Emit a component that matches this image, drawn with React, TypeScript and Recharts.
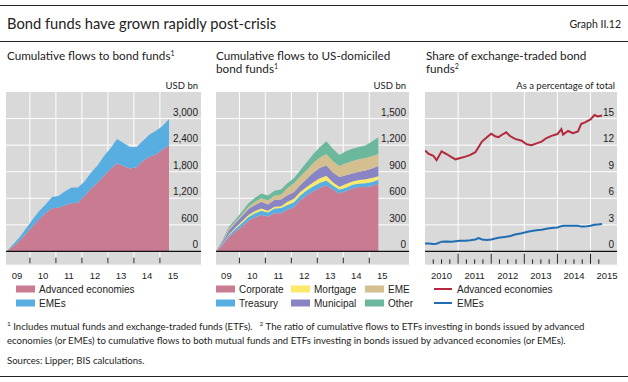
import React from "react";
import {
  AreaChart,
  Area,
  LineChart,
  Line,
  XAxis,
  YAxis,
  CartesianGrid,
  ReferenceLine,
} from "recharts";

// ---- data (decimal years) ----

// panel 1: cumulative flows to bond funds, USD bn (quarterly)
const flowDates = [
  2009.1, 2009.35, 2009.6, 2009.85, 2010.1, 2010.35, 2010.6, 2010.85, 2011.1, 2011.35, 2011.6, 2011.85,
  2012.1, 2012.35, 2012.6, 2012.85, 2013.1, 2013.35, 2013.6, 2013.85, 2014.1, 2014.35, 2014.6, 2014.85,
  2015.1, 2015.35,
];
const advancedFlows = [
  0, 110, 240, 400, 570, 720, 870, 975, 985, 1040, 1090, 1100, 1250, 1420, 1550, 1710, 1860, 1990, 1930,
  1870, 1900, 2050, 2140, 2190, 2300, 2390,
];
const emeFlows = [
  0, 45, 80, 120, 150, 185, 190, 255, 265, 320, 355, 345, 330, 360, 390, 445, 470, 550, 520, 490, 460, 450,
  500, 535, 530, 600,
];

// panel 2: cumulative flows to US-domiciled bond funds, USD bn
const usDates = flowDates;
const corporate = [
  0, 70, 165, 225, 280, 345, 385, 410, 395, 430, 430, 470, 500, 580, 635, 680, 720, 745, 700, 655, 680, 710,
  730, 725, 740, 765,
];
const treasury = [0, 10, 19, 30, 40, 45, 45, 50, 45, 55, 60, 55, 55, 55, 55, 55, 55, 55, 45, 45, 40, 42, 38, 45, 45, 45];
const mortgage = [0, 5, 11, 15, 20, 20, 25, 25, 20, 20, 20, 35, 40, 40, 40, 45, 50, 55, 35, 30, 40, 38, 37, 45, 45, 40];
const municipal = [0, 20, 45, 50, 60, 70, 70, 75, 70, 75, 75, 75, 75, 75, 90, 110, 120, 115, 110, 110, 100, 90, 95, 100, 105, 115];
const emeBonds = [0, 10, 19, 15, 20, 25, 35, 40, 45, 50, 55, 80, 100, 100, 100, 110, 115, 130, 130, 125, 135, 140, 140, 140, 140, 135];
const otherBonds = [0, 10, 19, 25, 30, 40, 45, 55, 55, 55, 60, 55, 55, 70, 90, 100, 120, 145, 140, 125, 135, 140, 140, 140, 165, 190];

// panel 3: share of exchange-traded bond funds, % of total
const shareDates = [
  2010.0, 2010.1, 2010.25, 2010.35, 2010.5, 2010.65, 2010.8, 2010.92, 2011.07, 2011.22, 2011.37, 2011.52,
  2011.62, 2011.72, 2011.87, 2012.0, 2012.12, 2012.22, 2012.34, 2012.45, 2012.58, 2012.72, 2012.92, 2013.07,
  2013.22, 2013.37, 2013.52, 2013.67, 2013.82, 2014.0, 2014.12, 2014.17, 2014.32, 2014.47, 2014.62, 2014.72,
  2014.82, 2015.0, 2015.12, 2015.22, 2015.35,
];
const advancedShare = [
  11.4, 11.05, 10.8, 10.3, 11.3, 11.0, 10.65, 10.4, 10.55, 10.7, 10.9, 11.2, 11.8, 12.4, 12.9, 13.3, 13.0,
  12.9, 13.2, 13.45, 13.0, 12.7, 12.5, 12.1, 12.0, 12.2, 12.4, 12.8, 13.05, 13.25, 13.8, 13.2, 13.6, 13.35,
  13.55, 14.4, 14.55, 14.9, 15.4, 15.25, 15.35,
];
const emeShare = [
  0.9, 0.88, 0.85, 0.87, 1.1, 1.12, 1.1, 1.15, 1.2, 1.2, 1.25, 1.35, 1.5, 1.35, 1.3, 1.35, 1.45, 1.55, 1.6,
  1.65, 1.75, 1.9, 2.05, 2.2, 2.3, 2.4, 2.45, 2.55, 2.65, 2.7, 2.85, 2.9, 2.9, 2.9, 2.9, 2.8, 2.8, 2.9, 3.0,
  3.05, 3.1,
];

// axes
const flowTicks = [0, 600, 1200, 1800, 2400, 3000];
const usTicks = [0, 300, 600, 900, 1200, 1500];
const shareTicks = [0, 3, 6, 9, 12, 15];
const yearLines = [2010, 2011, 2012, 2013, 2014, 2015];
const shortYearLabels = ["09", "10", "11", "12", "13", "14", "15"];
const longYearLabels = ["2010", "2011", "2012", "2013", "2014", "2015"];
const quarterTicks = [
  2010.25, 2010.5, 2010.75, 2011.25, 2011.5, 2011.75, 2012.25, 2012.5, 2012.75, 2013.25, 2013.5, 2013.75,
  2014.25, 2014.5, 2014.75, 2015.25,
];

// ---- styling ----
const GREY = "#d9d9d9";
const PINK = "#c97b91";
const BLUE = "#58aee0";
const YELLOW = "#fbe96a";
const PURPLE = "#8985c4";
const TAN = "#d4bf90";
const GREEN = "#6cb89c";
const RED = "#b3293b";
const DARKBLUE = "#1f6eb3";
const INK = "#222";
const TEXT_FONT = "Lato, 'Open Sans', sans-serif";
const AXIS_FONT = "'Liberation Sans', Arial, sans-serif";

const flowRows = flowDates.map((t, i) => ({ t, advanced: advancedFlows[i], emes: emeFlows[i] }));
const usRows = usDates.map((t, i) => ({
  t,
  corporate: corporate[i],
  treasury: treasury[i],
  mortgage: mortgage[i],
  municipal: municipal[i],
  eme: emeBonds[i],
  other: otherBonds[i],
}));
const shareRows = shareDates.map((t, i) => ({ t, advanced: advancedShare[i], emes: emeShare[i] }));

const usSeries = [
  { key: "corporate", name: "Corporate", color: PINK },
  { key: "treasury", name: "Treasury", color: BLUE },
  { key: "mortgage", name: "Mortgage", color: YELLOW },
  { key: "municipal", name: "Municipal", color: PURPLE },
  { key: "eme", name: "EME", color: TAN },
  { key: "other", name: "Other", color: GREEN },
];

const CHART_H = 300;
const PLOT_TOP = 92;
const PLOT_BOTTOM = 264.7;

const yTick = (right: number) => (p: any) => (
  <text x={right - 3} y={p.y - 3} textAnchor="end" fontSize={10} fontFamily={AXIS_FONT} fill={INK}>
    {p.payload.value.toLocaleString("en-US")}
  </text>
);

const xTick = (labels: string[], first: number) => (p: any) => (
  <text x={p.x} y={p.y + 14} textAnchor="middle" fontSize={9.5} fontFamily={AXIS_FONT} fill={INK}>
    {labels[Math.floor(p.payload.value) - first]}
  </text>
);

function Sup({ children, size = 7, dx = 0 }: { children: string; size?: number; dx?: number }) {
  return (
    <tspan dx={dx} dy={-4.5} fontSize={size}>
      {children}
    </tspan>
  );
}

export default function App() {
  const leftW = 215;
  const leftRight = 201;
  const midLeft = 210;
  const midW = 215;
  const midRight = 409 - midLeft;
  const rLeft = 419;
  const rW = 209;
  const rRight = 617 - rLeft;

  return (
    <div
      style={{
        position: "absolute",
        left: 0,
        top: 0,
        width: 628,
        height: 382,
        background: "#fff",
        overflow: "hidden",
      }}
    >
      {/* panel 1 */}
      <div style={{ position: "absolute", left: 0, top: 0 }}>
        <AreaChart
          width={leftW}
          height={CHART_H}
          data={flowRows}
          margin={{ top: PLOT_TOP, right: leftW - leftRight, bottom: 0, left: 6 }}
        >
          <CartesianGrid fill={GREY} fillOpacity={1} stroke="#fff" horizontalValues={flowTicks} verticalValues={yearLines} />
          <XAxis
            dataKey="t"
            type="number"
            domain={[2009.08, 2016.58]}
            ticks={[2009.5, 2010.5, 2011.5, 2012.5, 2013.5, 2014.5, 2015.5]}
            interval={0}
            tick={xTick(shortYearLabels, 2009)}
            tickSize={0}
            tickMargin={0}
            tickLine={false}
            axisLine={false}
            height={CHART_H - PLOT_BOTTOM}
            allowDataOverflow
          />
          <YAxis
            orientation="right"
            mirror
            domain={[-300, 3600]}
            ticks={flowTicks}
            interval={0}
            tick={yTick(leftRight)}
            tickLine={false}
            axisLine={false}
            allowDataOverflow
          />
          <Area dataKey="advanced" stackId="s" type="linear" stroke="none" fill={PINK} fillOpacity={1} isAnimationActive={false} />
          <Area dataKey="emes" stackId="s" type="linear" stroke="none" fill={BLUE} fillOpacity={1} isAnimationActive={false} />
          <ReferenceLine y={0} stroke="#111" strokeWidth={1.2} />
          {yearLines.map((y) => (
            <ReferenceLine key={y} segment={[{ x: y, y: -140 }, { x: y, y: -270 }]} stroke={INK} />
          ))}
        </AreaChart>
      </div>

      {/* panel 2 */}
      <div style={{ position: "absolute", left: midLeft, top: 0 }}>
        <AreaChart
          width={midW}
          height={CHART_H}
          data={usRows}
          margin={{ top: PLOT_TOP, right: midW - midRight, bottom: 0, left: 6 }}
        >
          <CartesianGrid fill={GREY} fillOpacity={1} stroke="#fff" horizontalValues={usTicks} verticalValues={yearLines} />
          <XAxis
            dataKey="t"
            type="number"
            domain={[2009.1, 2016.53]}
            ticks={[2009.5, 2010.5, 2011.5, 2012.5, 2013.5, 2014.5, 2015.5]}
            interval={0}
            tick={xTick(shortYearLabels, 2009)}
            tickSize={0}
            tickMargin={0}
            tickLine={false}
            axisLine={false}
            height={CHART_H - PLOT_BOTTOM}
            allowDataOverflow
          />
          <YAxis
            orientation="right"
            mirror
            domain={[-150, 1800]}
            ticks={usTicks}
            interval={0}
            tick={yTick(midRight)}
            tickLine={false}
            axisLine={false}
            allowDataOverflow
          />
          {usSeries.map((s) => (
            <Area
              key={s.key}
              dataKey={s.key}
              name={s.name}
              stackId="s"
              type="linear"
              stroke="none"
              fill={s.color}
              fillOpacity={1}
              isAnimationActive={false}
            />
          ))}
          <ReferenceLine y={0} stroke="#111" strokeWidth={1.2} />
          {yearLines.map((y) => (
            <ReferenceLine key={y} segment={[{ x: y, y: -70 }, { x: y, y: -135 }]} stroke={INK} />
          ))}
        </AreaChart>
      </div>

      {/* panel 3 */}
      <div style={{ position: "absolute", left: rLeft, top: 0 }}>
        <LineChart
          width={rW}
          height={CHART_H}
          data={shareRows}
          margin={{ top: PLOT_TOP, right: rW - rRight, bottom: 0, left: 6 }}
        >
          <CartesianGrid fill={GREY} fillOpacity={1} stroke="#fff" horizontalValues={shareTicks} verticalValues={yearLines.slice(1)} />
          <XAxis
            dataKey="t"
            type="number"
            domain={[2010, 2015.8]}
            ticks={[2010.5, 2011.5, 2012.5, 2013.5, 2014.5, 2015.5]}
            interval={0}
            tick={xTick(longYearLabels, 2010)}
            tickSize={0}
            tickMargin={0}
            tickLine={false}
            axisLine={false}
            height={CHART_H - PLOT_BOTTOM}
            allowDataOverflow
          />
          <YAxis
            orientation="right"
            mirror
            domain={[-1.5, 18]}
            ticks={shareTicks}
            interval={0}
            tick={yTick(rRight)}
            tickLine={false}
            axisLine={false}
            allowDataOverflow
          />
          <Line dataKey="advanced" type="linear" stroke={RED} strokeWidth={2} dot={false} isAnimationActive={false} />
          <Line dataKey="emes" type="linear" stroke={DARKBLUE} strokeWidth={2} dot={false} isAnimationActive={false} />
          <ReferenceLine y={0} stroke="#111" strokeWidth={1.2} />
          {yearLines.slice(1).map((y) => (
            <ReferenceLine key={y} segment={[{ x: y, y: -0.25 }, { x: y, y: -1.4 }]} stroke={INK} />
          ))}
          {quarterTicks.map((q) => (
            <ReferenceLine key={q} segment={[{ x: q, y: -0.9 }, { x: q, y: -1.4 }]} stroke={INK} />
          ))}
        </LineChart>
      </div>

      {/* titles, legends, notes */}
      <svg width={628} height={382} style={{ position: "absolute", left: 0, top: 0, pointerEvents: "none" }}>
        <line x1={0} x2={628} y1={5.5} y2={5.5} stroke={INK} />
        <text x={7} y={29} fontSize={14.7} fontFamily={TEXT_FONT} fill={INK}>
          Bond funds have grown rapidly post-crisis
        </text>
        <text x={621} y={28} textAnchor="end" fontSize={10.5} fontFamily={TEXT_FONT} fill={INK}>
          Graph II.12
        </text>
        <line x1={0} x2={628} y1={41.5} y2={41.5} stroke={INK} />

        <g fontSize={11.7} fontFamily={TEXT_FONT} fill={INK}>
          <text x={7} y={60}>
            Cumulative flows to bond funds<Sup>1</Sup>
          </text>
          <text x={216} y={60}>Cumulative flows to US-domiciled</text>
          <text x={216} y={73}>
            bond funds<Sup>1</Sup>
          </text>
          <text x={426} y={60}>Share of exchange-traded bond</text>
          <text x={426} y={73}>
            funds<Sup>2</Sup>
          </text>
        </g>

        <g fontSize={9.5} fontFamily={TEXT_FONT} fill={INK} textAnchor="end">
          <text x={leftRight - 3} y={89}>USD bn</text>
          <text x={409 - 3} y={89}>USD bn</text>
          <text x={617 - 2} y={89}>As a percentage of total</text>
        </g>

        <g fontSize={10} fontFamily={AXIS_FONT} fill={INK}>
          {[
            { name: "Advanced economies", color: PINK },
            { name: "EMEs", color: BLUE },
          ].map((s, i) => (
            <g key={s.name}>
              <rect x={16} y={285.5 + i * 14} width={19} height={7} fill={s.color} />
              <text x={39} y={292.5 + i * 14}>{s.name}</text>
            </g>
          ))}
          {usSeries.map((s, i) => {
            const col = Math.floor(i / 2);
            const row = i % 2;
            const x = [216, 291, 365][col];
            return (
              <g key={s.key}>
                <rect x={x} y={285.5 + row * 14} width={19} height={7} fill={s.color} />
                <text x={x + 23} y={292.5 + row * 14}>{s.name}</text>
              </g>
            );
          })}
          {[
            { name: "Advanced economies", color: RED },
            { name: "EMEs", color: DARKBLUE },
          ].map((s, i) => (
            <g key={s.name}>
              <line x1={434} x2={452} y1={289 + i * 14} y2={289 + i * 14} stroke={s.color} strokeWidth={2} />
              <text x={457} y={292.5 + i * 14}>{s.name}</text>
            </g>
          ))}
        </g>

        <g fontSize={9.6} fontFamily={TEXT_FONT} fill={INK}>
          <text x={7} y={330}>
            <Sup size={6.5}>1</Sup>
            <tspan dy={4.5}> Includes mutual funds and exchange-traded funds (ETFs).</tspan>
            <Sup size={6.5} dx={7}>2</Sup>
            <tspan dy={4.5}> The ratio of cumulative flows to ETFs investing in bonds issued by advanced</tspan>
          </text>
          <text x={7} y={344}>
            economies (or EMEs) to cumulative flows to both mutual funds and ETFs investing in bonds issued by advanced
            economies (or EMEs).
          </text>
          <text x={7} y={364}>Sources: Lipper; BIS calculations.</text>
        </g>
        <line x1={0} x2={628} y1={376.5} y2={376.5} stroke={INK} />
      </svg>
    </div>
  );
}
